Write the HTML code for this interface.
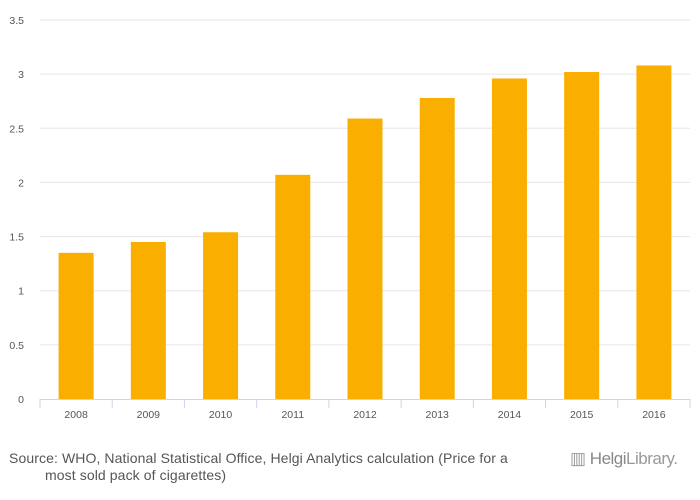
<!DOCTYPE html>
<html><head><meta charset="utf-8"><style>
body{margin:0;background:#fff;font-family:"Liberation Sans",sans-serif;}
#wrap{position:relative;width:700px;height:500px;overflow:hidden;}
#src{position:absolute;left:9px;top:450px;font-size:14px;letter-spacing:0.1px;color:#555;line-height:17px;}
#logo{position:absolute;left:570px;top:449px;font-size:17px;color:#999;letter-spacing:-0.5px;}
</style></head><body>
<div id="wrap">
<svg id="svg" width="700" height="440"></svg>
<div id="src">Source: WHO, National Statistical Office, Helgi Analytics calculation (Price for a<br><span style="padding-left:36px">most sold pack of cigarettes)</span></div>
<div id="logo">▥ <b style="font-weight:normal;color:#888">Helgi</b>Library.</div>
</div>
<script>
const categories=["2008","2009","2010","2011","2012","2013","2014","2015","2016"];
const values=[1.35,1.45,1.54,2.07,2.59,2.78,2.96,3.02,3.08];
const yTicks=[0,0.5,1,1.5,2,2.5,3,3.5];
const yTickLabels=["0","0.5","1","1.5","2","2.5","3","3.5"];
const NS="http://www.w3.org/2000/svg";
const svg=document.getElementById('svg');
const x0=40,x1=690,y0=399,yTop=20,yMax=3.5;
const band=(x1-x0)/categories.length;
const yS=v=>y0-(v/yMax)*(y0-yTop);
const xS=i=>x0+band*i;
function mk(t,a){const e=document.createElementNS(NS,t);for(const k in a)e.setAttribute(k,a[k]);svg.appendChild(e);return e;}
yTicks.forEach((v,i)=>{
 if(v>0){const g=mk('line',{x1:x0,x2:x1,y1:yS(v),y2:yS(v),stroke:'#e6e6e6','stroke-width':1});
 
 }
 const t=mk('text',{x:24,y:yS(v)+4,'text-anchor':'end','font-size':10.5,fill:'#555'});
 t.textContent=yTickLabels[i];
 
 
});
categories.forEach((c,i)=>{
 const cx=xS(i)+band/2,bw=35;
 const r=mk('rect',{x:cx-bw/2,y:yS(values[i]),width:bw,height:y0-yS(values[i]),fill:'#f9ae00'});
 
 
 const t=mk('text',{x:cx,y:418,'text-anchor':'middle','font-size':10.5,fill:'#555'});
 t.textContent=c;
 
 
});
for(let i=0;i<=categories.length;i++){
 const tk=mk('line',{x1:xS(i),x2:xS(i),y1:y0,y2:y0+9,stroke:'#ccd6eb'});
 
 
}
const ax=mk('line',{x1:x0,x2:x1,y1:y0+0.5,y2:y0+0.5,stroke:'#ccd6eb'});


</script>
</body></html>
